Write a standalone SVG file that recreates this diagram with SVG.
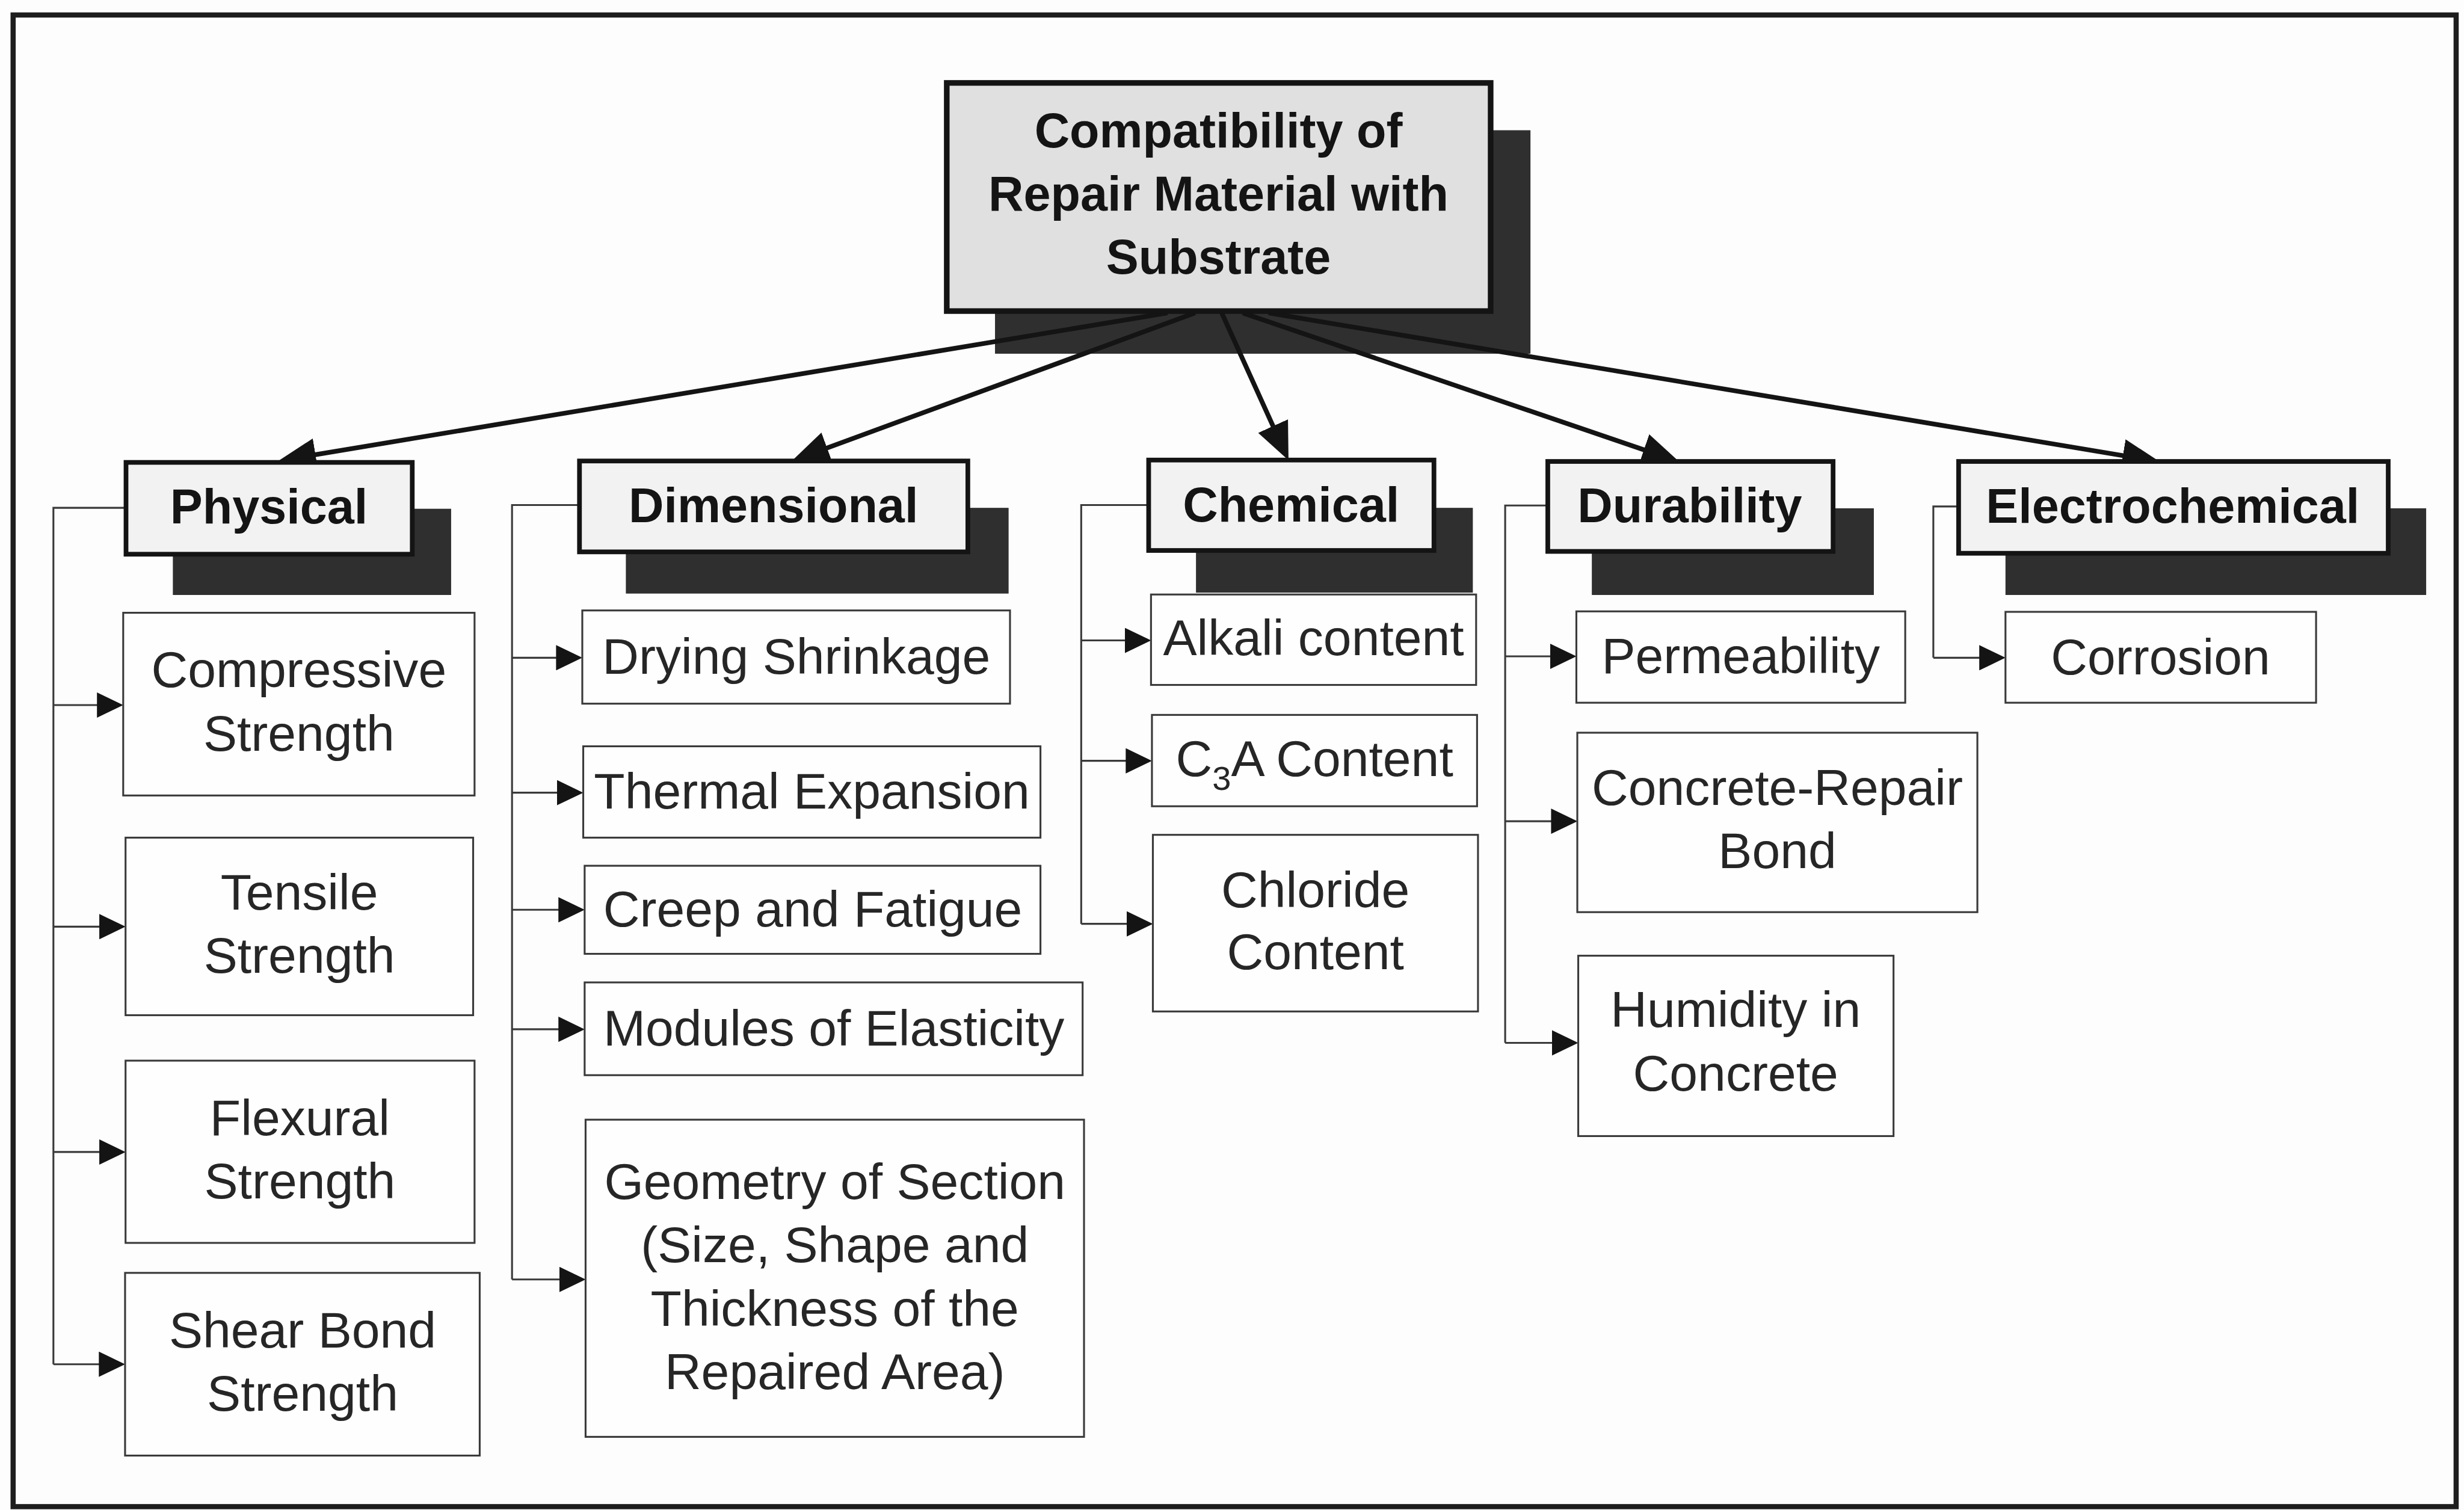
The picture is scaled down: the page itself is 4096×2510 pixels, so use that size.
<svg xmlns="http://www.w3.org/2000/svg" width="4096" height="2510" viewBox="0 0 4096 2510">
  <defs>
    <style>
      .frame { fill: none; stroke: #1e1e1e; stroke-width: 11; }
      .shadow { fill: #2f2f2f; }
      .rootbox { fill: #e0e0e0; stroke: #141414; stroke-width: 12; }
      .catbox { fill: #f2f2f2; stroke: #141414; stroke-width: 10; }
      .leafbox { fill: #fefefe; stroke: #3a3a3a; stroke-width: 4; }
      .t-bold { font-family: "Liberation Sans", Arial, sans-serif; font-weight: bold; font-size: 104px; fill: #141414; text-anchor: middle; }
      .t-leaf { font-family: "Liberation Sans", Arial, sans-serif; font-size: 108px; fill: #262626; text-anchor: middle; }
      .main { stroke: #141414; stroke-width: 10; fill: none; marker-end: url(#bigHead); }
      .trunk { stroke: #3a3a3a; stroke-width: 4; fill: none; }
      .branch { stroke: #3a3a3a; stroke-width: 4; fill: none; marker-end: url(#smallHead); }
    </style>
    <marker id="bigHead" markerUnits="userSpaceOnUse" viewBox="0 0 80 70" markerWidth="80" markerHeight="70" refX="40" refY="35" orient="auto">
      <path d="M0,0 L80,35 L0,70 z" fill="#141414"/>
    </marker>
    <marker id="smallHead" markerUnits="userSpaceOnUse" viewBox="0 0 56 54" markerWidth="56" markerHeight="54" refX="28" refY="27" orient="auto">
      <path d="M0,0 L56,27 L0,54 z" fill="#141414"/>
    </marker>
  </defs>

  <rect width="4096" height="2510" fill="#fdfdfd"/>

  <g transform="scale(0.77874)">
    <!-- outer frame -->
    <rect class="frame" x="28" y="32" width="5215" height="3184"/>

    <!-- drop shadows sit behind everything else -->
    <g id="shadows">
      <rect class="shadow" x="2124" y="278" width="1143" height="477"/>
      <rect class="shadow" x="369" y="1086" width="594" height="184"/>
      <rect class="shadow" x="1336" y="1084" width="817" height="183"/>
      <rect class="shadow" x="2553" y="1084" width="591" height="181"/>
      <rect class="shadow" x="3398" y="1085" width="602" height="185"/>
      <rect class="shadow" x="4281" y="1085" width="898" height="185"/>
    </g>

    <!-- connectors -->
    <g id="connectors">
      <!-- root to categories -->
      <line class="main" x1="2492" y1="668" x2="634" y2="977"/>
      <line class="main" x1="2551" y1="668" x2="1728" y2="970"/>
      <line class="main" x1="2608" y1="668" x2="2734" y2="946"/>
      <line class="main" x1="2653" y1="668" x2="3547" y2="973"/>
      <line class="main" x1="2708" y1="668" x2="4571" y2="979"/>

      <!-- Physical -->
      <path class="trunk" d="M269,1084 H114 V2912"/>
      <line class="branch" x1="114" y1="1505" x2="235" y2="1505"/>
      <line class="branch" x1="114" y1="1978" x2="240" y2="1978"/>
      <line class="branch" x1="114" y1="2459" x2="240" y2="2459"/>
      <line class="branch" x1="114" y1="2912" x2="239" y2="2912"/>

      <!-- Dimensional -->
      <path class="trunk" d="M1237,1078 H1093 V2731"/>
      <line class="branch" x1="1093" y1="1404" x2="1215" y2="1404"/>
      <line class="branch" x1="1093" y1="1692" x2="1217" y2="1692"/>
      <line class="branch" x1="1093" y1="1942" x2="1220" y2="1942"/>
      <line class="branch" x1="1093" y1="2197" x2="1220" y2="2197"/>
      <line class="branch" x1="1093" y1="2731" x2="1222" y2="2731"/>

      <!-- Chemical -->
      <path class="trunk" d="M2452,1078 H2308 V1972"/>
      <line class="branch" x1="2308" y1="1367" x2="2429" y2="1367"/>
      <line class="branch" x1="2308" y1="1624" x2="2431" y2="1624"/>
      <line class="branch" x1="2308" y1="1972" x2="2433" y2="1972"/>

      <!-- Durability -->
      <path class="trunk" d="M3304,1079 H3213 V2226"/>
      <line class="branch" x1="3213" y1="1401" x2="3337" y2="1401"/>
      <line class="branch" x1="3213" y1="1753" x2="3339" y2="1753"/>
      <line class="branch" x1="3213" y1="2226" x2="3341" y2="2226"/>

      <!-- Electrochemical -->
      <path class="trunk" d="M4181,1081 H4127 V1404"/>
      <line class="branch" x1="4127" y1="1404" x2="4253" y2="1404"/>
    </g>

    <!-- root node -->
    <g id="node-root">
      <rect class="rootbox" x="2021" y="177" width="1161" height="487"/>
      <text class="t-bold" x="2601" y="315">Compatibility of</text>
      <text class="t-bold" x="2601" y="449">Repair Material with</text>
      <text class="t-bold" x="2601" y="584">Substrate</text>
    </g>

    <!-- category nodes -->
    <g id="node-physical">
      <rect class="catbox" x="269" y="987" width="611" height="196"/>
      <text class="t-bold" x="574" y="1117">Physical</text>
    </g>
    <g id="node-dimensional">
      <rect class="catbox" x="1237" y="984" width="829" height="194"/>
      <text class="t-bold" x="1651" y="1114">Dimensional</text>
    </g>
    <g id="node-chemical">
      <rect class="catbox" x="2452" y="982" width="609" height="193"/>
      <text class="t-bold" x="2756" y="1113">Chemical</text>
    </g>
    <g id="node-durability">
      <rect class="catbox" x="3304" y="985" width="609" height="192"/>
      <text class="t-bold" x="3607" y="1114">Durability</text>
    </g>
    <g id="node-electrochemical">
      <rect class="catbox" x="4181" y="985" width="917" height="196"/>
      <text class="t-bold" x="4638" y="1116">Electrochemical</text>
    </g>

    <!-- Physical leaves -->
    <g id="node-compressive">
      <rect class="leafbox" x="263" y="1308" width="750" height="390"/>
      <text class="t-leaf" x="638" y="1467">Compressive</text>
      <text class="t-leaf" x="638" y="1602">Strength</text>
    </g>
    <g id="node-tensile">
      <rect class="leafbox" x="268" y="1788" width="742" height="379"/>
      <text class="t-leaf" x="639" y="1942">Tensile</text>
      <text class="t-leaf" x="639" y="2077">Strength</text>
    </g>
    <g id="node-flexural">
      <rect class="leafbox" x="268" y="2264" width="745" height="389"/>
      <text class="t-leaf" x="640" y="2423">Flexural</text>
      <text class="t-leaf" x="640" y="2558">Strength</text>
    </g>
    <g id="node-shear">
      <rect class="leafbox" x="267" y="2717" width="757" height="390"/>
      <text class="t-leaf" x="646" y="2876">Shear Bond</text>
      <text class="t-leaf" x="646" y="3011">Strength</text>
    </g>

    <!-- Dimensional leaves -->
    <g id="node-drying">
      <rect class="leafbox" x="1243" y="1303" width="913" height="199"/>
      <text class="t-leaf" x="1700" y="1438">Drying Shrinkage</text>
    </g>
    <g id="node-thermal">
      <rect class="leafbox" x="1245" y="1593" width="976" height="195"/>
      <text class="t-leaf" x="1733" y="1726">Thermal Expansion</text>
    </g>
    <g id="node-creep">
      <rect class="leafbox" x="1248" y="1848" width="973" height="188"/>
      <text class="t-leaf" x="1735" y="1977">Creep and Fatigue</text>
    </g>
    <g id="node-modules">
      <rect class="leafbox" x="1248" y="2097" width="1063" height="198"/>
      <text class="t-leaf" x="1780" y="2232">Modules of Elasticity</text>
    </g>
    <g id="node-geometry">
      <rect class="leafbox" x="1250" y="2390" width="1064" height="677"/>
      <text class="t-leaf" x="1782" y="2559">Geometry of Section</text>
      <text class="t-leaf" x="1782" y="2694">(Size, Shape and</text>
      <text class="t-leaf" x="1782" y="2830">Thickness of the</text>
      <text class="t-leaf" x="1782" y="2965">Repaired Area)</text>
    </g>

    <!-- Chemical leaves -->
    <g id="node-alkali">
      <rect class="leafbox" x="2457" y="1269" width="694" height="193"/>
      <text class="t-leaf" x="2804" y="1398">Alkali content</text>
    </g>
    <g id="node-c3a">
      <rect class="leafbox" x="2459" y="1526" width="694" height="195"/>
      <text class="t-leaf" x="2806" y="1656">C<tspan font-size="72" dy="30">3</tspan><tspan dy="-30">A Content</tspan></text>
    </g>
    <g id="node-chloride">
      <rect class="leafbox" x="2461" y="1782" width="694" height="377"/>
      <text class="t-leaf" x="2808" y="1936">Chloride</text>
      <text class="t-leaf" x="2808" y="2069">Content</text>
    </g>

    <!-- Durability leaves -->
    <g id="node-permeability">
      <rect class="leafbox" x="3365" y="1305" width="702" height="195"/>
      <text class="t-leaf" x="3716" y="1437">Permeability</text>
    </g>
    <g id="node-bond">
      <rect class="leafbox" x="3367" y="1564" width="854" height="383"/>
      <text class="t-leaf" x="3794" y="1718">Concrete-Repair</text>
      <text class="t-leaf" x="3794" y="1853">Bond</text>
    </g>
    <g id="node-humidity">
      <rect class="leafbox" x="3369" y="2040" width="673" height="385"/>
      <text class="t-leaf" x="3705" y="2192">Humidity in</text>
      <text class="t-leaf" x="3705" y="2328">Concrete</text>
    </g>

    <!-- Electrochemical leaf -->
    <g id="node-corrosion">
      <rect class="leafbox" x="4281" y="1306" width="663" height="194"/>
      <text class="t-leaf" x="4612" y="1439">Corrosion</text>
    </g>
  </g>
</svg>
